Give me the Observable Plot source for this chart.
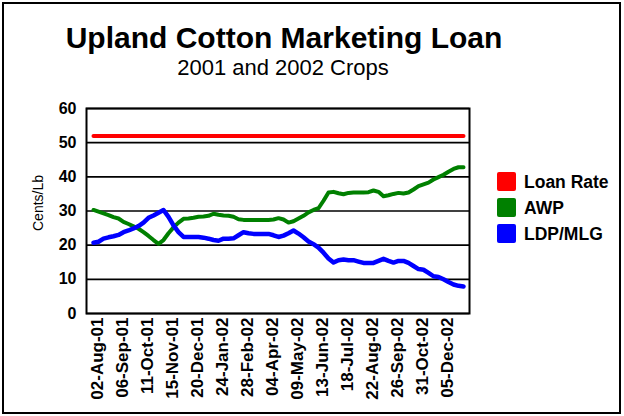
<!DOCTYPE html>
<html>
<head>
<meta charset="utf-8">
<script src="https://cdn.jsdelivr.net/npm/d3@7"></script>
<script src="https://cdn.jsdelivr.net/npm/@observablehq/plot@0.6"></script>
<style>
  html, body { margin: 0; padding: 0; background: #fff; }
  #wrap { position: relative; width: 624px; height: 416px; overflow: hidden;
          font-family: Arial, "Liberation Sans", sans-serif; color: #000; }
  #chart { position: absolute; left: 0; top: 0; }
  #border { position: absolute; left: 2px; top: 2px; width: 619px; height: 412px;
            border: 2px solid #000; box-sizing: border-box; pointer-events: none; }
  #title { position: absolute; left: 0; width: 568px; top: 22.6px; text-align: center;
           font-weight: bold; font-size: 30px; line-height: 30px; white-space: nowrap; }
  #subtitle { position: absolute; left: 0; width: 566px; top: 57.4px; text-align: center;
              font-size: 22px; line-height: 22px; white-space: nowrap; }
  .sw { position: absolute; left: 497px; width: 19px; height: 19px; border-radius: 2px; }
  .lt { position: absolute; left: 524px; font-weight: bold; font-size: 17.5px; line-height: 20px; white-space: nowrap; }
</style>
</head>
<body>
<div id="wrap">
  <div id="chart"></div>
  <div id="title">Upland Cotton Marketing Loan</div>
  <div id="subtitle">2001 and 2002 Crops</div>
  <div id="legend"></div>
  <div id="border"></div>
</div>
<script>
// ---- Data ----
const firstWeek = "2001-08-02";
const weekCount = 75;
const tickLabels = ["02-Aug-01","06-Sep-01","11-Oct-01","15-Nov-01","20-Dec-01","24-Jan-02",
  "28-Feb-02","04-Apr-02","09-May-02","13-Jun-02","18-Jul-02","22-Aug-02","26-Sep-02",
  "31-Oct-02","05-Dec-02"];
const yTicks = [0, 10, 20, 30, 40, 50, 60];
const loanRate = 51.92;
const awp = [
  30.3, 29.8, 29.3, 28.8, 28.2, 27.8, 26.8, 26.2, 25.5, 24.8,
  23.8, 22.7, 21.5, 20.4, 21.5, 23.5, 25.2, 26.6, 27.7, 27.8,
  28.0, 28.3, 28.4, 28.6, 29.2, 28.9, 28.7, 28.6, 28.3, 27.6,
  27.4, 27.4, 27.4, 27.4, 27.4, 27.4, 27.5, 27.9, 27.5, 26.6,
  27.0, 27.8, 28.6, 29.6, 30.3, 30.8, 33.0, 35.4, 35.6, 35.2,
  34.9, 35.3, 35.4, 35.4, 35.4, 35.5, 36.0, 35.6, 34.3, 34.6,
  35.0, 35.3, 35.1, 35.4, 36.3, 37.3, 37.8, 38.3, 39.2, 39.9,
  40.6, 41.5, 42.3, 42.8, 42.8
];
const ldp = [
  20.7, 21.0, 21.9, 22.3, 22.6, 23.0, 23.8, 24.3, 24.9, 25.6,
  26.6, 28.0, 28.7, 29.5, 30.3, 28.3, 25.8, 23.8, 22.4, 22.4,
  22.4, 22.4, 22.2, 21.9, 21.5, 21.3, 21.9, 21.9, 22.0, 22.9,
  23.8, 23.5, 23.3, 23.3, 23.3, 23.3, 22.9, 22.4, 22.8, 23.5,
  24.3, 23.4, 22.3, 21.1, 20.3, 19.3, 17.8, 16.1, 14.9, 15.6,
  15.8, 15.6, 15.6, 15.2, 14.8, 14.8, 14.8, 15.4, 16.0, 15.4,
  14.9, 15.4, 15.4, 14.8, 13.9, 13.0, 12.8, 11.9, 10.9, 10.7,
  10.0, 9.2, 8.5, 8.1, 7.9
];
const seriesNames = ["Loan Rate", "AWP", "LDP/MLG"];
const seriesColors = ["#ff0000", "#008000", "#0000ff"];

// ---- Build table ----
const fmt = d3.utcFormat("%d-%b-%y");
const start = d3.utcParse("%Y-%m-%d")(firstWeek);
const categories = d3.range(weekCount).map(i => fmt(d3.utcWeek.offset(start, i)));
const data = categories.map((date, i) => ({date, loan: loanRate, awp: awp[i], ldp: ldp[i]}));

const font = 'Arial, "Liberation Sans", sans-serif';
const chart = Plot.plot({
  width: 624,
  height: 416,
  marginLeft: 86,
  marginRight: 155,
  marginTop: 108,
  marginBottom: 103,
  style: {fontFamily: font, background: "transparent", color: "#000"},
  x: {type: "point", domain: categories, padding: 0},
  y: {domain: [0, 60]},
  marks: [
    Plot.ruleY(yTicks, {stroke: "#000", strokeWidth: 1.6}),
    Plot.lineY(data, {x: "date", y: "loan", stroke: seriesColors[0], strokeWidth: 4}),
    Plot.lineY(data, {x: "date", y: "awp", stroke: seriesColors[1], strokeWidth: 4}),
    Plot.lineY(data, {x: "date", y: "ldp", stroke: seriesColors[2], strokeWidth: 4.5}),
    Plot.frame({stroke: "#000", strokeWidth: 2}),
    Plot.axisY(yTicks, {tickSize: 0, tickPadding: 10, fontSize: 16, fontWeight: "bold", label: null}),
    Plot.axisX(tickLabels, {tickSize: 0, tickRotate: -90, tickPadding: 4, dx: 4,
                            fontSize: 17, fontWeight: "bold", label: null}),
    Plot.text(["Cents/Lb"], {frameAnchor: "left", textAnchor: "middle", dx: -48, dy: -8,
                             rotate: -90, fontSize: "14px"})
  ]
});
document.getElementById("chart").appendChild(chart);

// ---- Legend ----
const legend = document.getElementById("legend");
const swTops = [172, 198, 224];
seriesNames.forEach((name, i) => {
  const sw = document.createElement("div");
  sw.className = "sw";
  sw.style.top = swTops[i] + "px";
  sw.style.background = seriesColors[i];
  legend.appendChild(sw);
  const t = document.createElement("div");
  t.className = "lt";
  t.style.top = (swTops[i]) + "px";
  t.textContent = name;
  legend.appendChild(t);
});
</script>
</body>
</html>
